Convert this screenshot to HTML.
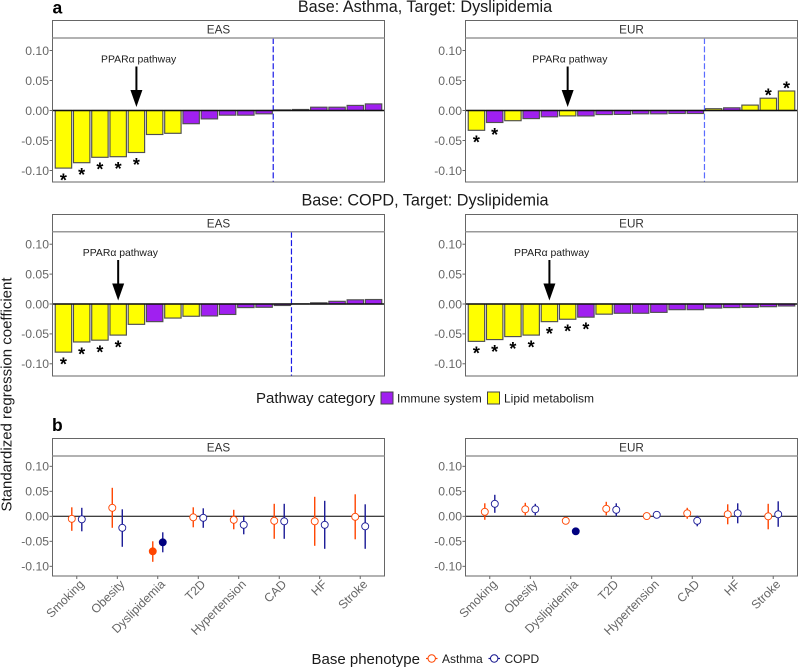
<!DOCTYPE html>
<html>
<head>
<meta charset="utf-8">
<title>Standardized regression coefficient chart</title>
<style>
html,body{margin:0;padding:0;background:#fff;}
svg{display:block;font-family:"Liberation Sans",sans-serif;}
</style>
</head>
<body>
<svg id="chart" xmlns="http://www.w3.org/2000/svg" width="798" height="667" viewBox="0 0 798 667">
<rect width="798" height="667" fill="#fff"/>
<text x="52.5" y="13.5" font-size="17.5" font-weight="bold" fill="#000">a</text>
<text x="52" y="431" font-size="17.5" font-weight="bold" fill="#000">b</text>
<text x="425" y="12" font-size="16.2" text-anchor="middle" fill="#1a1a1a">Base: Asthma, Target: Dyslipidemia</text>
<text x="425" y="205.5" font-size="16.2" text-anchor="middle" fill="#1a1a1a">Base: COPD, Target: Dyslipidemia</text>
<text transform="translate(11.5,394.5) rotate(-90)" font-size="15" text-anchor="middle" fill="#1a1a1a">Standardized regression coefficient</text>
<g>
<text x="256" y="403" font-size="15" fill="#1a1a1a">Pathway category</text>
<rect x="381" y="392" width="12" height="12" fill="#a020f0" stroke="#444" stroke-width="1"/>
<text x="397" y="402.5" font-size="12" fill="#1a1a1a">Immune system</text>
<rect x="487.5" y="392" width="12" height="12" fill="#ffff00" stroke="#444" stroke-width="1"/>
<text x="504" y="402.5" font-size="12" fill="#1a1a1a">Lipid metabolism</text>
</g>
<g>
<text x="311.5" y="664" font-size="15" fill="#1a1a1a">Base phenotype</text>
<line x1="426" x2="437.5" y1="658.5" y2="658.5" stroke="#ff4500" stroke-width="1.2"/>
<circle cx="431.7" cy="658.5" r="3.7" fill="#fff" stroke="#ff4500" stroke-width="1"/>
<text x="442" y="663" font-size="12" fill="#1a1a1a">Asthma</text>
<line x1="488.5" x2="500" y1="658.5" y2="658.5" stroke="#14148c" stroke-width="1.2"/>
<circle cx="494.2" cy="658.5" r="3.7" fill="#fff" stroke="#14148c" stroke-width="1"/>
<text x="504.5" y="663" font-size="12" fill="#1a1a1a">COPD</text>
</g>
</svg>
<script>
// ---------- Data: bar panels ----------
const yTickValues = [0.10, 0.05, 0.00, -0.05, -0.10];
const yTickLabels = ["0.10", "0.05", "0.00", "-0.05", "-0.10"];

const asthmaEasValues = [-0.096, -0.087, -0.078, -0.077, -0.070, -0.040, -0.038, -0.022, -0.014, -0.0078, -0.0078, -0.0055, 0.001, 0.0017, 0.0055, 0.0055, 0.0085, 0.011];
const asthmaEasCategories = ["L","L","L","L","L","L","L","I","I","I","I","I","I","I","I","I","I","I"];
const asthmaEasStars = [0, 1, 2, 3, 4];

const asthmaEurValues = [-0.033, -0.020, -0.017, -0.0135, -0.0105, -0.009, -0.009, -0.0068, -0.0065, -0.0055, -0.0055, -0.005, -0.005, 0.003, 0.0045, 0.009, 0.0205, 0.0325];
const asthmaEurCategories = ["L","I","L","I","I","L","I","I","I","I","I","I","I","L","I","L","L","L"];
const asthmaEurStars = [0, 1, 16, 17];

const copdEasValues = [-0.0805, -0.0635, -0.0605, -0.052, -0.034, -0.0295, -0.0235, -0.0205, -0.020, -0.0175, -0.006, -0.0055, -0.0025, 0.0003, 0.002, 0.0045, 0.007, 0.0075];
const copdEasCategories = ["L","L","L","L","L","I","L","L","I","I","I","I","I","I","I","I","I","I"];
const copdEasStars = [0, 1, 2, 3];

const copdEurValues = [-0.0625, -0.0595, -0.0545, -0.052, -0.0295, -0.0255, -0.022, -0.017, -0.0155, -0.0155, -0.014, -0.0095, -0.0095, -0.0068, -0.006, -0.0055, -0.0045, -0.0033];
const copdEurCategories = ["L","L","L","L","L","L","I","L","I","I","I","I","I","I","I","I","I","I"];
const copdEurStars = [0, 1, 2, 3, 4, 5, 6];

// ---------- Data: phenotype panels ----------
const phenotypes = ["Smoking", "Obesity", "Dyslipidemia", "T2D", "Hypertension", "CAD", "HF", "Stroke"];

const easAsthmaEstimate = [-0.005, 0.017, -0.070, -0.002, -0.007, -0.009, -0.010, -0.001];
const easAsthmaLower = [-0.029, -0.023, -0.091, -0.022, -0.026, -0.045, -0.059, -0.046];
const easAsthmaUpper = [0.018, 0.057, -0.050, 0.018, 0.013, 0.025, 0.039, 0.044];
const easAsthmaSignificant = [0, 0, 1, 0, 0, 0, 0, 0];

const easCopdEstimate = [-0.006, -0.023, -0.052, -0.003, -0.017, -0.010, -0.017, -0.020];
const easCopdLower = [-0.030, -0.061, -0.072, -0.023, -0.036, -0.045, -0.065, -0.065];
const easCopdUpper = [0.017, 0.014, -0.032, 0.016, 0.001, 0.025, 0.031, 0.024];
const easCopdSignificant = [0, 0, 1, 0, 0, 0, 0, 0];

const eurAsthmaEstimate = [0.009, 0.014, -0.009, 0.015, 0.0005, 0.006, 0.004, 0.000];
const eurAsthmaLower = [-0.007, 0.002, -0.012, 0.002, -0.002, -0.005, -0.016, -0.026];
const eurAsthmaUpper = [0.026, 0.027, -0.006, 0.029, 0.003, 0.017, 0.024, 0.025];
const eurAsthmaSignificant = [0, 0, 0, 0, 0, 0, 0, 0];

const eurCopdEstimate = [0.025, 0.014, -0.030, 0.013, 0.003, -0.009, 0.006, 0.004];
const eurCopdLower = [0.007, 0.002, -0.033, 0.000, 0.001, -0.020, -0.014, -0.021];
const eurCopdUpper = [0.043, 0.025, -0.027, 0.026, 0.005, 0.001, 0.026, 0.030];
const eurCopdSignificant = [0, 0, 1, 0, 0, 0, 0, 0];

// ---------- Drawing ----------
const svg = document.getElementById('chart');
const NS = 'http://www.w3.org/2000/svg';
function make(tag, attrs, parent) {
  const node = document.createElementNS(NS, tag);
  for (const k in attrs) node.setAttribute(k, attrs[k]);
  parent.appendChild(node);
  return node;
}
function yAxisFn(zero, pxPerUnit) { return v => zero - v * pxPerUnit; }
function xBandFn(left, right, n) {
  const step = (right - left) / (n - 1 + 1.2);
  const f = i => left + (0.6 + i) * step;
  f.step = step;
  return f;
}

function panelFrame(name, label, left, right, stripTop, top, bottom, y) {
  const g = make('g', {}, svg);
  
  
  const strip = make('rect', {x: left, y: stripTop, width: right - left, height: top - stripTop, fill: '#fff', stroke: '#666', 'stroke-width': 1}, g);
  
  
  const stripText = make('text', {x: (left + right) / 2, y: (stripTop + top) / 2 + 4.2, 'font-size': 11.7, 'text-anchor': 'middle', fill: '#333'}, g);
  stripText.textContent = label;
  
  
  yTickValues.forEach((v, i) => {
    const tick = make('line', {x1: left - 3, x2: left, y1: y(v), y2: y(v), stroke: '#555', 'stroke-width': 0.9}, g);
    
    
    const t = make('text', {x: left - 3.5, y: y(v) + 4.3, 'font-size': 12.2, 'text-anchor': 'end', fill: '#666'}, g);
    t.textContent = yTickLabels[i];
    
    
  });
  return g;
}
function panelBorder(g, name, left, right, top, bottom) {
  const border = make('rect', {x: left, y: top, width: right - left, height: bottom - top, fill: 'none', stroke: '#666', 'stroke-width': 1}, g);
  
  
  const sep = make('line', {x1: left, x2: right, y1: top, y2: top, stroke: '#999', 'stroke-width': 1.5}, g);
  
  
}

function barPanel(o) {
  const y = yAxisFn(o.zero, o.scale);
  const x = xBandFn(o.left, o.right, o.values.length);
  const g = panelFrame(o.name, o.label, o.left, o.right, o.stripTop, o.top, o.bottom, y);
  const bw = x.step * 0.9;
  o.values.forEach((v, i) => {
    const y0 = y(Math.max(v, 0)), y1 = y(Math.min(v, 0));
    const bar = make('rect', {x: x(i) - bw / 2, y: y0, width: bw, height: y1 - y0,
      fill: o.categories[i] === 'L' ? '#ffff00' : '#a020f0', stroke: '#4f4f4f', 'stroke-width': 1.15}, g);
    
    
  });
  o.stars.forEach(i => {
    const v = o.values[i];
    const cy = v < 0 ? y(v) + 8 : y(v) - 7;
    const s = make('text', {x: x(i), y: cy + 10.3, 'font-size': 18, 'font-weight': 'bold', 'text-anchor': 'middle', fill: '#000'}, g);
    s.textContent = '*';
    
    
  });
  const firstPos = o.values.findIndex(v => v > 0);
  if (firstPos > 0) {
    const vx = x(firstPos) - x.step / 2;
    const vline = make('line', {x1: vx, x2: vx, y1: o.top, y2: o.bottom, stroke: o.vColor, 'stroke-width': 1.2, 'stroke-dasharray': '6 2.4'}, g);
    
    
  }
  const zero = make('line', {x1: o.left, x2: o.right, y1: y(0), y2: y(0), stroke: '#111', 'stroke-width': 1.4}, g);
  
  
  const ax = x(o.arrow);
  const label = make('text', {x: ax + 2.2, y: o.zero - 48, 'font-size': 10.4, 'text-anchor': 'middle', fill: '#1a1a1a'}, g);
  label.textContent = 'PPARα pathway';
  
  
  const shaft = make('line', {x1: ax, x2: ax, y1: o.zero - 44, y2: o.zero - 15, stroke: '#000', 'stroke-width': 2}, g);
  
  
  const head = make('polygon', {points: (ax - 6) + ',' + (o.zero - 20.5) + ' ' + (ax + 6) + ',' + (o.zero - 20.5) + ' ' + ax + ',' + (o.zero - 3.5), fill: '#000'}, g);
  
  
  panelBorder(g, o.name, o.left, o.right, o.top, o.bottom);
}

function dotSeries(g, name, color, dark, x, y, offset, est, lo, hi, sig) {
  est.forEach((v, i) => {
    const cx = x(i) + offset;
    const line = make('line', {x1: cx, x2: cx, y1: y(hi[i]), y2: y(lo[i]), stroke: color, 'stroke-width': 1.4}, g);
    
    
    const dot = make('circle', {cx: cx, cy: y(v), r: 3.5, fill: sig[i] ? dark : '#fff', stroke: sig[i] ? dark : color, 'stroke-width': 0.9}, g);
    
    
  });
}

function dotPanel(o) {
  const y = yAxisFn(o.zero, o.scale);
  const x = xBandFn(o.left, o.right, phenotypes.length);
  const g = panelFrame(o.name, o.label, o.left, o.right, o.stripTop, o.top, o.bottom, y);
  const zero = make('line', {x1: o.left, x2: o.right, y1: y(0), y2: y(0), stroke: '#000', 'stroke-width': 1}, g);
  
  
  dotSeries(g, o.name + '-asthma', '#ff4500', '#ff4500', x, y, -5, o.aEst, o.aLo, o.aHi, o.aSig);
  dotSeries(g, o.name + '-copd', '#1a1a96', '#000080', x, y, 5, o.cEst, o.cLo, o.cHi, o.cSig);
  phenotypes.forEach((p, i) => {
    const tick = make('line', {x1: x(i), x2: x(i), y1: o.bottom, y2: o.bottom + 3, stroke: '#555', 'stroke-width': 0.9}, g);
    
    
    const tx = x(i) + 8, ty = o.bottom + 9;
    const t = make('text', {transform: 'translate(' + tx + ',' + ty + ') rotate(-45)', 'font-size': 12.2, 'text-anchor': 'end', fill: '#666'}, g);
    t.textContent = p;
    
    
  });
  panelBorder(g, o.name, o.left, o.right, o.top, o.bottom);
}

const leftL = 52.5, leftR = 384.5, rightL = 465.5, rightR = 797.5;
const blueDark = '#1a1ae6', blueLight = '#5a6cff';

barPanel({name: 'asthma-eas', label: 'EAS', left: leftL, right: leftR, stripTop: 20.5, top: 38, bottom: 182, zero: 110.5, scale: 600,
  values: asthmaEasValues, categories: asthmaEasCategories, stars: asthmaEasStars, arrow: 4, vColor: blueDark});
barPanel({name: 'asthma-eur', label: 'EUR', left: rightL, right: rightR, stripTop: 20.5, top: 38, bottom: 182, zero: 110.5, scale: 600,
  values: asthmaEurValues, categories: asthmaEurCategories, stars: asthmaEurStars, arrow: 5, vColor: blueLight});
barPanel({name: 'copd-eas', label: 'EAS', left: leftL, right: leftR, stripTop: 214.5, top: 231.7, bottom: 376, zero: 304, scale: 598,
  values: copdEasValues, categories: copdEasCategories, stars: copdEasStars, arrow: 3, vColor: blueDark});
barPanel({name: 'copd-eur', label: 'EUR', left: rightL, right: rightR, stripTop: 214.5, top: 231.7, bottom: 376, zero: 304, scale: 598,
  values: copdEurValues, categories: copdEurCategories, stars: copdEurStars, arrow: 4, vColor: blueDark});

dotPanel({name: 'phenotype-eas', label: 'EAS', left: leftL, right: leftR, stripTop: 438.5, top: 456, bottom: 576, zero: 516.3, scale: 500,
  aEst: easAsthmaEstimate, aLo: easAsthmaLower, aHi: easAsthmaUpper, aSig: easAsthmaSignificant,
  cEst: easCopdEstimate, cLo: easCopdLower, cHi: easCopdUpper, cSig: easCopdSignificant});
dotPanel({name: 'phenotype-eur', label: 'EUR', left: rightL, right: rightR, stripTop: 438.5, top: 456, bottom: 576, zero: 516.3, scale: 500,
  aEst: eurAsthmaEstimate, aLo: eurAsthmaLower, aHi: eurAsthmaUpper, aSig: eurAsthmaSignificant,
  cEst: eurCopdEstimate, cLo: eurCopdLower, cHi: eurCopdUpper, cSig: eurCopdSignificant});
</script>
</body>
</html>
